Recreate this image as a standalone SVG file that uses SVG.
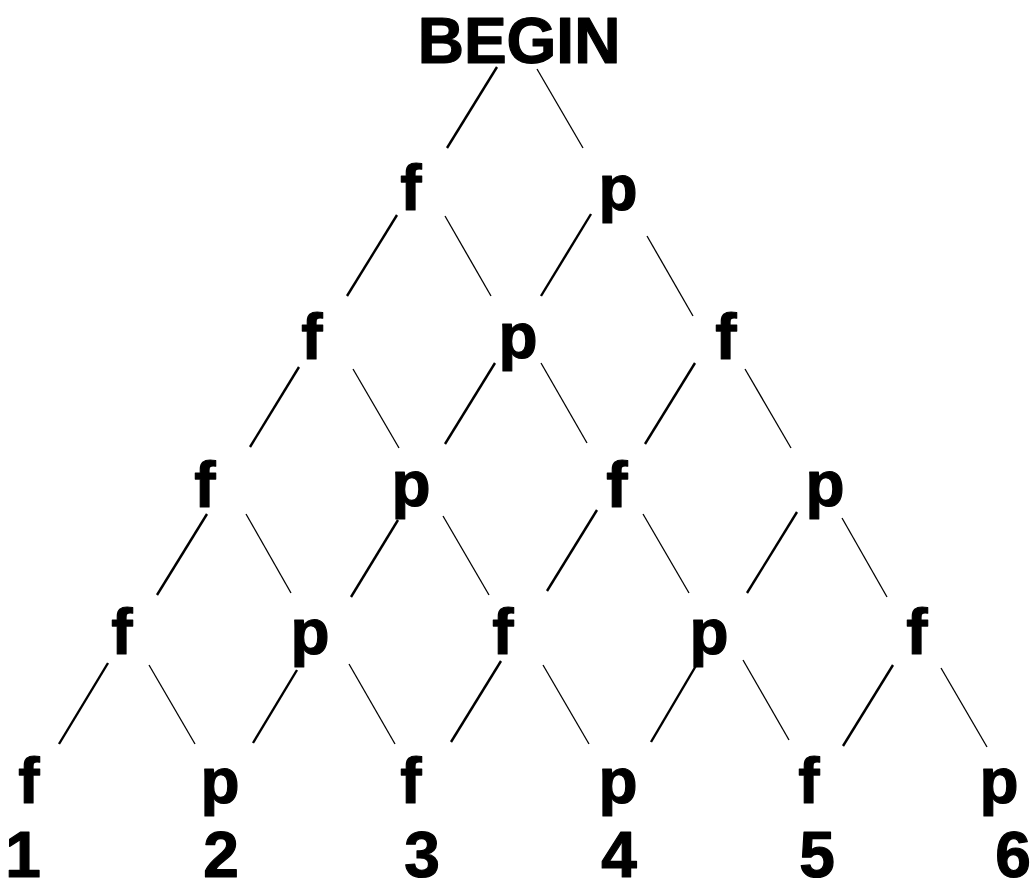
<svg xmlns="http://www.w3.org/2000/svg" width="1034" height="878" viewBox="0 0 1034 878">
<style>
text{font-family:"Liberation Sans",Arial,"Noto Sans",sans-serif;font-weight:bold;font-size:64px;fill:#000;stroke:#000;stroke-width:1.2;stroke-linejoin:round;text-anchor:middle}
.l{stroke:#000;stroke-width:2.4;stroke-linecap:butt;fill:none}
.r{stroke:#000;stroke-width:1.3;stroke-linecap:butt;fill:none}
</style>
<rect width="1034" height="878" fill="#fff"/>
<g id="connectors">
<line class="l" x1="497" y1="67" x2="447" y2="148"/>
<line class="r" x1="537" y1="69" x2="583" y2="148"/>
<line class="l" x1="397" y1="215" x2="347" y2="296"/>
<line class="r" x1="445" y1="216" x2="491" y2="296"/>
<line class="l" x1="591" y1="214" x2="541" y2="296"/>
<line class="r" x1="647" y1="236" x2="693" y2="316"/>
<line class="l" x1="299" y1="367" x2="250" y2="447"/>
<line class="r" x1="353" y1="369" x2="399" y2="448"/>
<line class="l" x1="495" y1="363" x2="445" y2="444"/>
<line class="r" x1="541" y1="363" x2="587" y2="443"/>
<line class="l" x1="695" y1="363" x2="645" y2="444"/>
<line class="r" x1="745" y1="369" x2="791" y2="448"/>
<line class="l" x1="207" y1="514" x2="157" y2="595"/>
<line class="r" x1="246" y1="514" x2="291" y2="593"/>
<line class="l" x1="398" y1="520" x2="351" y2="597"/>
<line class="r" x1="443" y1="516" x2="489" y2="595"/>
<line class="l" x1="597" y1="510" x2="547" y2="591"/>
<line class="r" x1="643" y1="514" x2="689" y2="593"/>
<line class="l" x1="797" y1="512" x2="747" y2="593"/>
<line class="r" x1="842" y1="518" x2="887" y2="597"/>
<line class="l" x1="108" y1="663" x2="59" y2="744"/>
<line class="r" x1="149" y1="665" x2="195" y2="744"/>
<line class="l" x1="297" y1="670" x2="253" y2="743"/>
<line class="r" x1="349" y1="664" x2="395" y2="744"/>
<line class="l" x1="501" y1="661" x2="451" y2="742"/>
<line class="r" x1="543" y1="665" x2="589" y2="744"/>
<line class="l" x1="697" y1="664" x2="651" y2="742"/>
<line class="r" x1="743" y1="660" x2="789" y2="740"/>
<line class="l" x1="893" y1="665" x2="843" y2="746"/>
<line class="r" x1="941" y1="668" x2="987" y2="747"/>
</g>
<g id="n-begin"><text x="519" y="63">BEGIN</text></g>
<g id="n1-f"><text x="411" y="210">f</text></g>
<g id="n1-p"><text x="618" y="210">p</text></g>
<g id="n2-f1"><text x="312" y="359">f</text></g>
<g id="n2-p"><text x="518" y="358">p</text></g>
<g id="n2-f2"><text x="726" y="359">f</text></g>
<g id="n3-f1"><text x="205" y="507">f</text></g>
<g id="n3-p1"><text x="411" y="506">p</text></g>
<g id="n3-f2"><text x="617" y="507">f</text></g>
<g id="n3-p2"><text x="825" y="506">p</text></g>
<g id="n4-f1"><text x="122" y="654">f</text></g>
<g id="n4-p1"><text x="310" y="654">p</text></g>
<g id="n4-f2"><text x="503" y="654">f</text></g>
<g id="n4-p2"><text x="709" y="654">p</text></g>
<g id="n4-f3"><text x="917" y="654">f</text></g>
<g id="n5-f1"><text x="29" y="803">f</text></g>
<g id="n5-p1"><text x="220" y="803">p</text></g>
<g id="n5-f2"><text x="411" y="803">f</text></g>
<g id="n5-p2"><text x="618" y="803">p</text></g>
<g id="n5-f3"><text x="809" y="803">f</text></g>
<g id="n5-p3"><text x="999" y="803">p</text></g>
<g id="labels">
<text x="23" y="877">1</text>
<text x="221" y="877">2</text>
<text x="422" y="877">3</text>
<text x="619" y="877">4</text>
<text x="817" y="877">5</text>
<text x="1013" y="877">6</text>
</g>
</svg>
